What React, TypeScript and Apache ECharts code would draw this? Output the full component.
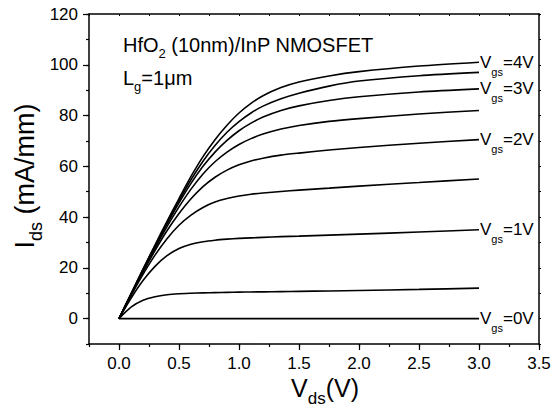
import React, { useEffect, useRef } from "react";
import * as echarts from "echarts";

// Drain voltage grid (V)
const VDS = [0, 0.1, 0.2, 0.3, 0.4, 0.5, 0.6, 0.7, 0.8, 0.9, 1.0, 1.1, 1.2, 1.35, 1.5, 1.75, 2.0, 2.5, 3.0];

// Drain current (mA/mm) for each gate voltage
const IDS_0V = [0, 0, 0, 0, 0, 0, 0, 0, 0, 0, 0, 0, 0, 0, 0, 0, 0, 0, 0];
const IDS_05V = [0, 4.5, 7.2, 8.6, 9.4, 9.8, 10, 10.15, 10.25, 10.35, 10.45, 10.5, 10.55, 10.65, 10.75, 10.9, 11.1, 11.5, 12];
const IDS_1V = [0, 8, 15, 20.6, 24.8, 27.6, 29.3, 30.3, 30.9, 31.3, 31.6, 31.8, 32, 32.3, 32.5, 32.9, 33.3, 34.1, 35];
const IDS_15V = [0, 9, 17.4, 25, 31.5, 36.8, 40.8, 43.8, 45.9, 47.3, 48.3, 49, 49.5, 50.1, 50.6, 51.4, 52.2, 53.6, 55];
const IDS_2V = [0, 9.3, 18.3, 26.8, 34.6, 41.4, 47.2, 52, 55.7, 58.5, 60.6, 62.1, 63.2, 64.4, 65.2, 66.4, 67.4, 69.1, 70.5];
const IDS_25V = [0, 9.5, 18.8, 27.7, 36.2, 44, 51, 57, 61.8, 65.6, 68.6, 70.9, 72.7, 74.7, 76.1, 77.7, 78.8, 80.6, 82];
const IDS_3V = [0, 9.6, 19.1, 28.3, 37.2, 45.6, 53.3, 60, 65.6, 70.2, 74, 77, 79.4, 82, 83.8, 85.9, 87.4, 89.3, 90.5];
const IDS_35V = [0, 9.7, 19.3, 28.7, 37.8, 46.5, 54.7, 62, 68.2, 73.4, 77.6, 81, 83.7, 86.6, 88.8, 91.6, 93.6, 95.7, 97];
const IDS_4V = [0, 9.8, 19.5, 29, 38.3, 47.3, 56, 63.8, 70.5, 76.2, 81, 84.8, 87.8, 91, 93.2, 95.6, 97.3, 99.5, 101];

const CURVES: { ids: number[]; label: string | null }[] = [
  { ids: IDS_0V, label: "0V" },
  { ids: IDS_05V, label: null },
  { ids: IDS_1V, label: "1V" },
  { ids: IDS_15V, label: null },
  { ids: IDS_2V, label: "2V" },
  { ids: IDS_25V, label: null },
  { ids: IDS_3V, label: "3V" },
  { ids: IDS_35V, label: null },
  { ids: IDS_4V, label: "4V" },
];

const X_LABELS = [0, 0.5, 1.0, 1.5, 2.0, 2.5, 3.0, 3.5];
const Y_LABELS = [0, 20, 40, 60, 80, 100, 120];

const FONT = "Liberation Sans, Arial, sans-serif";

function richText(main: number, sub: number, lh: number, slh: number) {
  return {
    v: { fontSize: main, lineHeight: lh, verticalAlign: "middle", fill: "#000", color: "#000", fontFamily: FONT },
    s: { fontSize: sub, lineHeight: slh, verticalAlign: "bottom", fill: "#000", color: "#000", fontFamily: FONT },
  };
}

export default function App() {
  const ref = useRef<HTMLDivElement>(null);

  useEffect(() => {
    if (!ref.current) return;
    const chart = echarts.init(ref.current, undefined, { renderer: "svg" });

    const axisLineStyle = { color: "#000", width: 1.5 };

    const series = CURVES.map((c) => ({
      type: "line",
      data: VDS.map((v, i) => [v, c.ids[i]]),
      showSymbol: false,
      symbol: "none",
      smooth: 0.25,
      xAxisIndex: 0,
      yAxisIndex: 0,
      lineStyle: { color: "#000", width: 1.6 },
      itemStyle: { color: "#000" },
      endLabel: c.label
        ? {
            show: true,
            distance: 1,
            color: "#000",
            fontFamily: FONT,
            formatter: "{v|V}{s|gs}{v|=" + c.label + "}",
            rich: richText(17, 11, 30, 8),
          }
        : { show: false },
    }));

    const option: any = {
      animation: false,
      backgroundColor: "#fff",
      grid: { left: 89, right: 17, top: 14, bottom: 65, containLabel: false },
      xAxis: [
        {
          type: "value",
          min: -0.25,
          max: 3.5,
          interval: 0.25,
          position: "bottom",
          axisLine: { show: true, onZero: false, lineStyle: axisLineStyle },
          axisTick: { show: true, inside: false, length: 3, lineStyle: { color: "#000", width: 1.2 } },
          axisLabel: { show: false },
          splitLine: { show: false },
        },
        {
          type: "value",
          min: -0.25,
          max: 3.5,
          position: "bottom",
          axisLine: { show: false, onZero: false },
          axisTick: { show: true, inside: false, length: 6, customValues: X_LABELS, lineStyle: { color: "#000", width: 1.2 } },
          axisLabel: {
            show: true,
            customValues: X_LABELS,
            formatter: (v: number) => v.toFixed(1),
            fontSize: 17,
            color: "#000",
            fontFamily: FONT,
            margin: 11,
          },
          splitLine: { show: false },
        },
        {
          type: "value",
          min: -0.25,
          max: 3.5,
          interval: 0.25,
          position: "top",
          axisLine: { show: true, onZero: false, lineStyle: axisLineStyle },
          axisTick: { show: true, inside: true, length: 2, lineStyle: { color: "#000", width: 1 } },
          axisLabel: { show: false },
          splitLine: { show: false },
        },
      ],
      yAxis: [
        {
          type: "value",
          min: -10,
          max: 120,
          interval: 10,
          position: "left",
          axisLine: { show: true, onZero: false, lineStyle: axisLineStyle },
          axisTick: { show: true, inside: false, length: 3, lineStyle: { color: "#000", width: 1.2 } },
          axisLabel: { show: false },
          splitLine: { show: false },
        },
        {
          type: "value",
          min: -10,
          max: 120,
          position: "left",
          axisLine: { show: false, onZero: false },
          axisTick: { show: true, inside: false, length: 6, customValues: Y_LABELS, lineStyle: { color: "#000", width: 1.2 } },
          axisLabel: {
            show: true,
            customValues: Y_LABELS,
            fontSize: 17,
            color: "#000",
            fontFamily: FONT,
            margin: 11,
          },
          splitLine: { show: false },
        },
        {
          type: "value",
          min: -10,
          max: 120,
          interval: 10,
          position: "right",
          axisLine: { show: true, onZero: false, lineStyle: axisLineStyle },
          axisTick: { show: true, inside: false, length: 2, lineStyle: { color: "#000", width: 1 } },
          axisLabel: { show: false },
          splitLine: { show: false },
        },
      ],
      graphic: [
        {
          type: "text",
          x: 123,
          y: 45,
          style: {
            text: "{v|HfO}{s|2}{v| (10nm)/InP NMOSFET}",
            verticalAlign: "middle",
            align: "left",
            rich: richText(20, 13, 30, 8),
          },
        },
        {
          type: "text",
          x: 123,
          y: 78,
          style: {
            text: "{v|L}{s|g}{v|=1μm}",
            verticalAlign: "middle",
            align: "left",
            rich: richText(20, 13, 30, 8),
          },
        },
        {
          type: "text",
          x: 325,
          y: 388,
          style: {
            text: "{v|V}{s|ds}{v|(V)}",
            verticalAlign: "middle",
            align: "center",
            rich: richText(25, 17, 38, 10),
          },
        },
        {
          type: "text",
          x: 25,
          y: 176,
          rotation: Math.PI / 2,
          style: {
            text: "{v|I}{s|ds}{v| (mA/mm)}",
            verticalAlign: "middle",
            align: "center",
            rich: richText(27, 18, 40, 10),
          },
        },
      ],
      series,
    };

    chart.setOption(option);
    return () => chart.dispose();
  }, []);

  return (
    <div
      ref={ref}
      style={{ position: "fixed", left: 0, top: 0, width: 556, height: 409, background: "#fff" }}
    />
  );
}
